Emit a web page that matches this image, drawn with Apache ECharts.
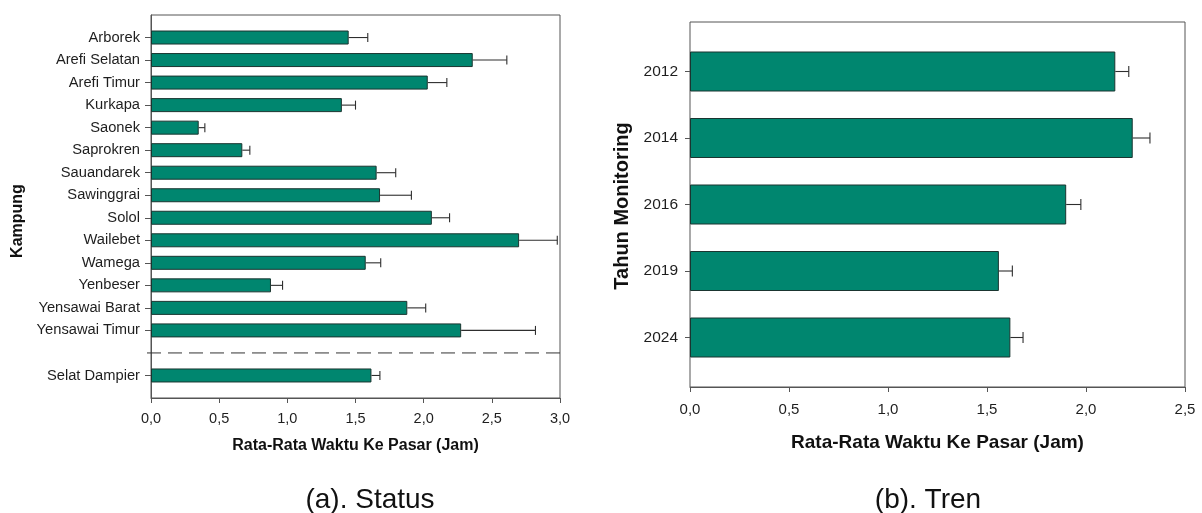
<!DOCTYPE html>
<html><head><meta charset="utf-8">
<script src="https://cdn.jsdelivr.net/npm/echarts@6/dist/echarts.min.js"></script>
<style>html,body{margin:0;padding:0;background:#fff}#c{width:1202px;height:513px}</style>
</head><body><div id="c"></div>
<script>
// ---- data (a) Status ----
const kampung = ['Arborek','Arefi Selatan','Arefi Timur','Kurkapa','Saonek','Saprokren','Sauandarek','Sawinggrai','Solol','Wailebet','Wamega','Yenbeser','Yensawai Barat','Yensawai Timur'];
const kampungMean = [1.45,2.36,2.03,1.40,0.35,0.67,1.655,1.68,2.06,2.70,1.575,0.88,1.88,2.275];
const kampungErr  = [0.14,0.25,0.14,0.10,0.045,0.055,0.14,0.23,0.13,0.28,0.11,0.085,0.135,0.545];
const totalLabel = 'Selat Dampier';
const totalMean = 1.617;
const totalErr = 0.062;
// ---- data (b) Tren ----
const tahun = ['2012','2014','2016','2019','2024'];
const tahunMean = [2.148,2.236,1.90,1.56,1.618];
const tahunErr  = [0.068,0.087,0.074,0.068,0.064];
// ---- axis settings ----
const xMaxA = 3.0, xMaxB = 2.5, xStep = 0.5;
const xTitle = 'Rata-Rata Waktu Ke Pasar (Jam)';
const yTitleA = 'Kampung';
const yTitleB = 'Tahun Monitoring';
const captionA = '(a). Status';
const captionB = '(b). Tren';

const FONT = '"Liberation Sans", Arial, sans-serif';
const BAR = '#00866F', BAR_BORDER = '#1a3530', AX = '#555', TXT = '#1e1e1e', ERR = '#2e2e2e';

// category list for (a): blank padding top, separator slot, blank padding bottom
const catA = [''].concat(kampung, [''], [totalLabel], ['']);
const sepIndex = kampung.length + 1;
const barA = catA.map(() => null);
kampung.forEach((k, i) => { barA[i + 1] = kampungMean[i]; });
barA[sepIndex + 1] = totalMean;
const errA = kampung.map((k, i) => [kampungMean[i], kampungMean[i] + kampungErr[i], i + 1]);
errA.push([totalMean, totalMean + totalErr, sepIndex + 1]);
const errB = tahun.map((t, i) => [tahunMean[i], tahunMean[i] + tahunErr[i], i]);

const fmt = v => v.toFixed(1).replace('.', ',');

function errRender(cap) {
  return function (params, api) {
    const s = api.coord([api.value(0), api.value(2)]);
    const e = api.coord([api.value(1), api.value(2)]);
    const st = { stroke: ERR, lineWidth: 1.1 };
    return { type: 'group', children: [
      { type: 'line', shape: { x1: s[0], y1: s[1], x2: e[0], y2: e[1] }, style: st },
      { type: 'line', shape: { x1: e[0], y1: e[1] - cap / 2, x2: e[0], y2: e[1] + cap / 2 }, style: st }
    ]};
  };
}

const chart = echarts.init(document.getElementById('c'), null, { renderer: 'canvas' });
chart.setOption({
  animation: false,
  backgroundColor: '#fff',
  textStyle: { fontFamily: FONT },
  grid: [
    { left: 151, top: 15, width: 409, height: 383, show: true, borderColor: AX, borderWidth: 1 },
    { left: 690, top: 22, width: 495, height: 365, show: true, borderColor: AX, borderWidth: 1 },
    { left: 690, top: 38.25, width: 495, height: 332.5 }
  ],
  xAxis: [
    { gridIndex: 0, type: 'value', min: 0, max: xMaxA, interval: xStep,
      axisLine: { show: true, lineStyle: { color: AX } },
      axisTick: { show: true, length: 5, lineStyle: { color: AX } },
      splitLine: { show: false },
      axisLabel: { formatter: fmt, fontSize: 14.5, color: TXT, margin: 13, fontFamily: FONT },
      name: xTitle, nameLocation: 'middle', nameGap: 40,
      nameTextStyle: { fontSize: 16, fontWeight: 'bold', color: '#111', fontFamily: FONT } },
    { gridIndex: 1, type: 'value', min: 0, max: xMaxB, interval: xStep,
      axisLine: { show: true, lineStyle: { color: AX } },
      axisTick: { show: true, length: 5, lineStyle: { color: AX } },
      splitLine: { show: false },
      axisLabel: { formatter: fmt, fontSize: 15, color: TXT, margin: 15, fontFamily: FONT },
      name: xTitle, nameLocation: 'middle', nameGap: 46,
      nameTextStyle: { fontSize: 19, fontWeight: 'bold', color: '#111', fontFamily: FONT } },
    { gridIndex: 2, type: 'value', min: 0, max: xMaxB, show: false }
  ],
  yAxis: [
    { gridIndex: 0, type: 'category', data: catA, inverse: true, boundaryGap: false,
      axisLine: { show: true, lineStyle: { color: AX } },
      axisTick: { show: true, length: 6, lineStyle: { color: AX },
        interval: (idx, val) => val !== '' },
      axisLabel: { fontSize: 14.7, color: TXT, margin: 11, interval: 0, fontFamily: FONT },
      splitLine: { show: false } },
    { gridIndex: 1, type: 'value', show: false },
    { gridIndex: 2, type: 'category', data: tahun, inverse: true,
      axisLine: { show: false },
      axisTick: { show: true, length: 5, alignWithLabel: true, lineStyle: { color: AX } },
      axisLabel: { fontSize: 15.5, color: TXT, margin: 12, fontFamily: FONT },
      splitLine: { show: false } }
  ],
  series: [
    { type: 'bar', xAxisIndex: 0, yAxisIndex: 0, data: barA, barWidth: 14,
      itemStyle: { color: BAR, borderColor: BAR_BORDER, borderWidth: 1 } },
    { type: 'custom', xAxisIndex: 0, yAxisIndex: 0, data: errA, encode: { x: [0, 1], y: 2 },
      renderItem: errRender(9), z: 3 },
    { type: 'custom', xAxisIndex: 0, yAxisIndex: 0, data: [[0, sepIndex]], encode: { x: 0, y: 1 },
      renderItem: function (params, api) {
        const p = api.coord([api.value(0), api.value(1)]);
        const cs = params.coordSys;
        return { type: 'line', shape: { x1: cs.x - 4, y1: p[1], x2: cs.x + cs.width, y2: p[1] },
          style: { stroke: '#333', lineWidth: 1, lineDash: [14, 7] } };
      }, z: 3 },
    { type: 'bar', xAxisIndex: 2, yAxisIndex: 2, data: tahunMean, barWidth: 40,
      itemStyle: { color: BAR, borderColor: BAR_BORDER, borderWidth: 1 } },
    { type: 'custom', xAxisIndex: 2, yAxisIndex: 2, data: errB, encode: { x: [0, 1], y: 2 },
      renderItem: errRender(11), z: 3 }
  ],
  graphic: [
    { type: 'text', x: 18, y: 221, rotation: Math.PI / 2,
      style: { text: yTitleA, font: 'bold 16px ' + FONT, fill: '#111', align: 'center', verticalAlign: 'middle' } },
    { type: 'text', x: 622, y: 206, rotation: Math.PI / 2,
      style: { text: yTitleB, font: 'bold 20px ' + FONT, fill: '#111', align: 'center', verticalAlign: 'middle' } },
    { type: 'text', x: 370, y: 500,
      style: { text: captionA, font: '28px ' + FONT, fill: '#111', align: 'center', verticalAlign: 'middle' } },
    { type: 'text', x: 928, y: 500,
      style: { text: captionB, font: '28px ' + FONT, fill: '#111', align: 'center', verticalAlign: 'middle' } }
  ]
});
</script>
</body></html>
